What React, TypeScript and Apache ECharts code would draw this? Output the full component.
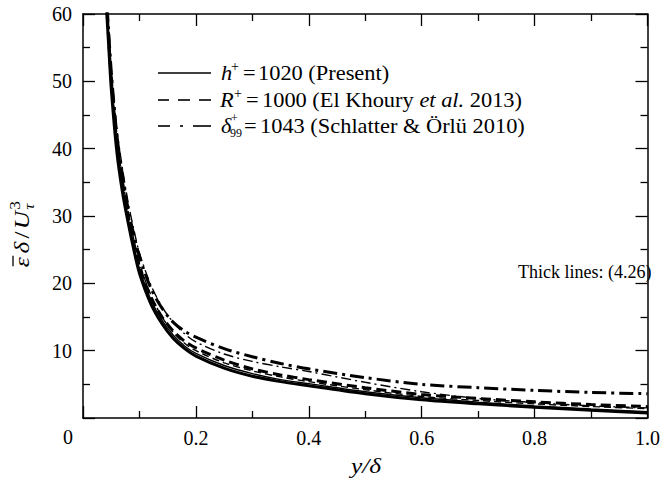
import React, { useEffect, useRef } from "react";
import * as echarts from "echarts";

// y/delta positions where the curves are sampled
const xs = [0.04, 0.045, 0.05, 0.06, 0.07, 0.08, 0.09, 0.1, 0.12, 0.14, 0.16, 0.18, 0.2, 0.25, 0.3, 0.35, 0.4, 0.5, 0.6, 0.7, 0.8, 0.9, 1.0];

// Thick lines: model (4.26)
const modelPresent = [63, 56, 49, 39.5, 33.5, 29, 25, 21.5, 17, 14, 11.8, 10.3, 9.2, 7.4, 6.2, 5.4, 4.8, 3.6, 2.7, 2.1, 1.6, 1.15, 0.75];
const modelElKhoury = [64, 57, 50.5, 41, 35, 30, 26, 22.5, 18, 15, 12.9, 11.4, 10.4, 8.6, 7.3, 6.4, 5.7, 4.5, 3.5, 2.9, 2.4, 2.0, 1.7];
const modelSchlatter = [65, 58, 51.5, 42, 36, 31, 27.2, 24, 19.3, 16.3, 14.2, 12.9, 12.0, 10.3, 9.1, 8.1, 7.3, 6.0, 5.0, 4.5, 4.1, 3.8, 3.6];

// Thin lines: data
const dataPresent = [63.5, 56.5, 49.8, 40.3, 34.2, 29.5, 25.6, 22.2, 17.6, 14.5, 12.3, 10.7, 9.6, 7.8, 6.6, 5.7, 5.1, 3.9, 3.0, 2.35, 1.8, 1.35, 0.95];
const dataElKhoury = [64.5, 57.5, 51, 41.5, 35.5, 30.5, 26.5, 23, 18.3, 15, 12.7, 11.1, 10.0, 8.2, 7.0, 6.1, 5.4, 4.2, 3.2, 2.6, 2.1, 1.7, 1.4];
const dataSchlatter = [66, 59, 52, 43, 37, 32, 28, 24.5, 19.8, 16.5, 14.2, 12.5, 11.3, 9.5, 8.4, 7.6, 6.9, 5.3, 3.9, 2.9, 2.3, 1.8, 1.5];

const xTicks = [0, 0.2, 0.4, 0.6, 0.8, 1.0];
const yTicks = [0, 10, 20, 30, 40, 50, 60];

const FONT = "Liberation Serif";

const pairs = (ys: number[]) => xs.map((x, i) => [x, ys[i]]);

export default function App() {
  const ref = useRef<HTMLDivElement>(null);
  useEffect(() => {
    if (!ref.current) return;
    const chart = echarts.init(ref.current, undefined, { renderer: "svg" });
    const tickStyle = { color: "#000", width: 1.3 };
    const baseX = {
      type: "value" as const,
      min: xTicks[0],
      max: xTicks[xTicks.length - 1],
      interval: 0.2,
      splitLine: { show: false },
      axisLine: { show: true, onZero: false, lineStyle: { color: "#000", width: 1.5 } },
      axisTick: { show: true, inside: true, length: 12, lineStyle: tickStyle },
      minorTick: { show: true, splitNumber: 2, length: 7, lineStyle: tickStyle },
    };
    const baseY = {
      type: "value" as const,
      min: yTicks[0],
      max: yTicks[yTicks.length - 1],
      interval: 10,
      splitLine: { show: false },
      axisLine: { show: true, onZero: false, lineStyle: { color: "#000", width: 1.5 } },
      axisTick: { show: true, inside: true, length: 12, lineStyle: tickStyle },
      minorTick: { show: true, splitNumber: 2, length: 7, lineStyle: tickStyle },
    };
    const mk = (name: string, ys: number[], width: number, type: any) => ({
      name,
      type: "line" as const,
      data: pairs(ys),
      showSymbol: false,
      symbol: "none",
      smooth: 0.3,
      clip: true,
      lineStyle: { color: "#000", width, type },
      xAxisIndex: 0,
      yAxisIndex: 0,
    });
    const legendY = [73, 100, 126];
    const SX = 1.12;
    const txt = (x: number, y: number, text: string, size: number, italic = false, extra: any = {}, sx = 1) => ({
      type: "text",
      x,
      y,
      scaleX: sx,
      style: {
        text,
        fontFamily: FONT,
        fontSize: size,
        fontStyle: italic ? "italic" : "normal",
        fill: "#000",
        verticalAlign: "middle",
        ...extra,
      },
    });
    chart.setOption({
      animation: false,
      backgroundColor: "#fff",
      grid: { left: 83, right: 13, top: 14, bottom: 65 },
      xAxis: [
        {
          ...baseX,
          position: "bottom",
          axisLabel: {
            color: "#000",
            fontFamily: FONT,
            fontSize: 20,
            margin: 10,
            formatter: (v: number) => (v === 0 ? "" : v === 1 ? "1.0" : v.toFixed(1)),
          },
        },
        { ...baseX, position: "top", axisLabel: { show: false } },
      ],
      yAxis: [
        {
          ...baseY,
          position: "left",
          axisLabel: {
            color: "#000",
            fontFamily: FONT,
            fontSize: 20,
            margin: 11,
            formatter: (v: number) => (v === 0 ? "" : String(v)),
          },
        },
        { ...baseY, position: "right", axisLabel: { show: false } },
      ],
      series: [
        mk("data present", dataPresent, 1.4, "solid"),
        mk("data el khoury", dataElKhoury, 1.4, [7, 4]),
        mk("data schlatter", dataSchlatter, 1.4, [10, 4, 2, 4]),
        mk("h+ = 1020 (Present)", modelPresent, 3, "solid"),
        mk("R+ = 1000 (El Khoury et al. 2013)", modelElKhoury, 3, [10, 5]),
        mk("δ99+ = 1043 (Schlatter & Örlü 2010)", modelSchlatter, 3, [14, 5, 3, 5]),
      ],
      graphic: [
        // legend samples
        { type: "line", shape: { x1: 158, y1: legendY[0], x2: 211, y2: legendY[0] }, style: { stroke: "#000", lineWidth: 1.6 } },
        { type: "line", shape: { x1: 158, y1: legendY[1], x2: 169, y2: legendY[1] }, style: { stroke: "#000", lineWidth: 1.6 } },
        { type: "line", shape: { x1: 178, y1: legendY[1], x2: 190, y2: legendY[1] }, style: { stroke: "#000", lineWidth: 1.6 } },
        { type: "line", shape: { x1: 199, y1: legendY[1], x2: 211, y2: legendY[1] }, style: { stroke: "#000", lineWidth: 1.6 } },
        { type: "line", shape: { x1: 158, y1: legendY[2], x2: 170, y2: legendY[2] }, style: { stroke: "#000", lineWidth: 1.6 } },
        { type: "line", shape: { x1: 180, y1: legendY[2], x2: 183, y2: legendY[2] }, style: { stroke: "#000", lineWidth: 1.6 } },
        { type: "line", shape: { x1: 193, y1: legendY[2], x2: 211, y2: legendY[2] }, style: { stroke: "#000", lineWidth: 1.6 } },
        // legend texts
        txt(221, legendY[0], "h", 20, true, {}, SX),
        txt(231, legendY[0] - 7, "+", 14),
        txt(243, legendY[0], "=", 20, false, {}, SX),
        txt(258, legendY[0], "1020 (Present)", 20, false, {}, SX),
        txt(220, legendY[1], "R", 20, true, {}, SX),
        txt(234, legendY[1] - 7, "+", 14),
        txt(246, legendY[1], "=", 20, false, {}, SX),
        txt(262, legendY[1], "1000 (El Khoury {i|et al.} 2013)", 20, false, {
          rich: { i: { fontStyle: "italic", fontFamily: FONT, fontSize: 20, fill: "#000" } },
        }, SX),
        txt(221, legendY[2], "δ", 20, true, {}, SX),
        txt(231, legendY[2] - 8, "+", 12),
        txt(230, legendY[2] + 7, "99", 12),
        txt(244, legendY[2], "=", 20, false, {}, SX),
        txt(260, legendY[2], "1043 (Schlatter & Örlü 2010)", 20, false, {}, SX),
        // annotation
        txt(518, 272, "Thick lines: (4.26)", 18),
        // origin label
        txt(68, 437, "0", 20, false, { align: "center" }),
        // x axis title
        txt(366, 466, "y/δ", 22, true, { align: "center" }, 1.15),
        // y axis title (rotated)
        {
          type: "group",
          x: 22,
          y: 219,
          rotation: Math.PI / 2,
          scaleX: 1.15,
          children: [
            txt(-42, 0, "ε", 22, true),
            { type: "line", shape: { x1: -41, y1: -9, x2: -32, y2: -9 }, style: { stroke: "#000", lineWidth: 1.3 } },
            txt(-30, 0, "δ", 22, true),
            txt(-17, 0, "/", 22),
            txt(-9, 0, "U", 22, true),
            txt(8, -7, "3", 15),
            txt(8, 7, "τ", 15, true),
          ],
        },
      ],
    });
    return () => chart.dispose();
  }, []);
  return (
    <div
      ref={ref}
      style={{ position: "fixed", left: 0, top: 0, width: 663, height: 483, background: "#fff" }}
    />
  );
}
